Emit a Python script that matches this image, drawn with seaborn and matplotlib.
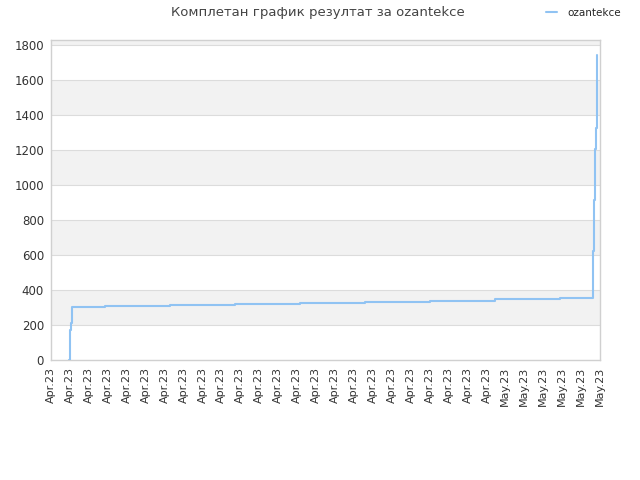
import numpy as np
import pandas as pd
import matplotlib
matplotlib.use('Agg')
import matplotlib.pyplot as plt
import seaborn as sns

# cumulative score, x in tick-index units (0 = first tick label)
x_pos = [0.95, 0.98, 1.02, 1.08, 1.12, 2.85, 6.29, 9.72, 13.15, 16.59, 20.02, 23.45, 26.89,
         28.62, 28.67, 28.72, 28.77, 28.83]
scores = [0, 86, 171, 211, 305, 311, 316, 322, 328, 334, 340, 346, 352,
          623, 914, 1206, 1326, 1743]
tick_labels = ['Apr.23'] * 24 + ['May.23'] * 6
player = 'ozantekce'

df = pd.DataFrame({'x': x_pos, 'score': scores})

sns.set_style('white')
plt.rcParams['font.family'] = ['DejaVu Sans']

fig = plt.figure(figsize=(6.4, 4.8), dpi=100)
ax = fig.add_axes([51 / 640, 120 / 480, 549 / 640, 320 / 480])

# alternating bands
for i, lo in enumerate(range(0, 1800, 200)):
    if i % 2 == 1:
        ax.axhspan(lo, lo + 200, color='#f2f2f2', zorder=0, lw=0)
ax.axhspan(1800, 1830, color='#f2f2f2', zorder=0, lw=0)
for yv in range(200, 1801, 200):
    ax.axhline(yv, color='#dcdcdc', lw=0.8, zorder=1)

sns.lineplot(data=df, x='x', y='score', ax=ax, estimator=None, sort=False,
             drawstyle='steps-post', color='#90c3f3', lw=1.5, label=player, zorder=3)

ax.set_xlim(0, 29)
ax.set_ylim(0, 1829)
ax.set_xticks(range(len(tick_labels)))
ax.set_xticklabels(tick_labels, rotation=90, fontsize=8, color='#333333')
ax.set_yticks(range(0, 1801, 200))
ax.set_yticklabels([str(v) for v in range(0, 1801, 200)], fontsize=8.5, color='#333333')
ax.tick_params(length=0, pad=5)
ax.set_xlabel('')
ax.set_ylabel('')
for s in ax.spines.values():
    s.set_color('#d0d0d0')
    s.set_linewidth(1)

fig.text(0.497, 0.988, 'Комплетан график резултат за ' + player, ha='center', va='top',
         fontsize=9.5, color='#444444')
ax.legend(loc='upper right', bbox_to_anchor=(1.055, 1.13), frameon=False, fontsize=7.5,
          handlelength=1.0, handletextpad=1.0)

fig.savefig('out.png', dpi=100)
